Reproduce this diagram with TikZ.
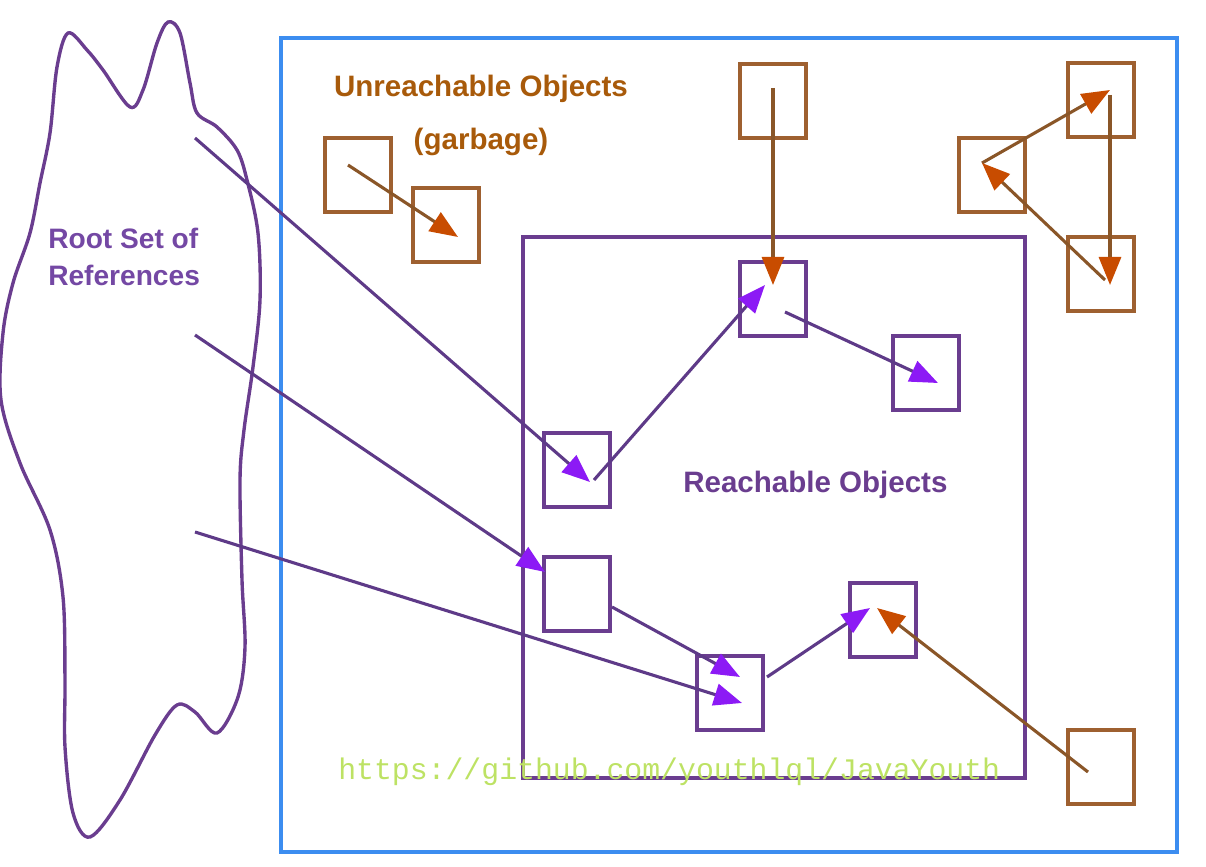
\documentclass[tikz,border=0pt]{standalone}
\usepackage{fontspec}
\setmainfont{Liberation Sans}
\setmonofont{Liberation Mono}
\usetikzlibrary{arrows.meta}

\definecolor{heapblue}{HTML}{3C8DF0}
\definecolor{boxbrown}{HTML}{9E6030}
\definecolor{linebrown}{HTML}{8A5628}
\definecolor{tiporange}{HTML}{C84C00}
\definecolor{boxpurple}{HTML}{6A3D8F}
\definecolor{linepurple}{HTML}{5E3A88}
\definecolor{tippurple}{HTML}{8C1AF5}
\definecolor{textbrown}{HTML}{A85A0A}
\definecolor{textpurple}{HTML}{7448A4}
\definecolor{markgreen}{HTML}{BDE264}

\begin{document}
\begin{tikzpicture}[x=0.025cm,y=-0.025cm,
  obj/.style={draw,line width=2.6pt,minimum width=1.65cm,minimum height=1.85cm,inner sep=0pt},
  garb/.style={obj,draw=boxbrown},
  live/.style={obj,draw=boxpurple},
  gref/.style={line width=2.2pt,draw=linebrown,-{Triangle[length=0.7cm,width=0.55cm,color=tiporange]}},
  lref/.style={line width=2.2pt,draw=linepurple,-{Triangle[length=0.7cm,width=0.55cm,color=tippurple]}},
  bigtext/.style={font=\bfseries\fontsize{21pt}{25pt}\selectfont,inner sep=0pt}]
\useasboundingbox (0,0) rectangle (1206,867);

% heap and the reachable area
\draw [heapblue,line width=3.2pt] (281,38) rectangle (1177,852);
\draw [boxpurple,line width=2.5pt] (523,237) rectangle (1025,778);

% root set
\draw [boxpurple,line width=2.4pt] plot [smooth cycle,tension=0.55] coordinates {
  (68,33) (87,50) (103,70) (130,107) (143,90) (157,43) (168,22) (180,33)
  (190,83) (197,113) (217,127) (237,150) (247,180) (258,233) (260,300)
  (253,367) (244,430) (240,480) (242,580) (245,647) (238,697) (217,733)
  (195,712) (177,705) (155,735) (120,800) (90,837) (73,813) (65,747)
  (65,680) (63,597) (50,530) (20,463) (1,400) (3,333) (13,283) (30,233)
  (40,183) (50,133) (57,67)};
\coordinate (r1) at (195,138);
\coordinate (r2) at (195,335);
\coordinate (r3) at (195,532);

% objects
\node [garb] (o1) at (358,175) {};
\node [garb] (o2) at (446,225) {};
\node [garb] (o3) at (773,101) {};
\node [garb] (o4) at (1101,100) {};
\node [garb] (o5) at (992,175) {};
\node [garb] (o6) at (1101,274) {};
\node [garb] (o7) at (1101,767) {};
\node [live] (p1) at (773,299) {};
\node [live] (p2) at (926,373) {};
\node [live] (p3) at (577,470) {};
\node [live] (p4) at (577,594) {};
\node [live] (p5) at (883,620) {};
\node [live] (p6) at (730,693) {};

% labels
\node [bigtext,textbrown,anchor=base] (unreach) at (481,97) {Unreachable Objects};
\node [bigtext,textbrown,anchor=base] (garbage) at (481,149) {(garbage)};
\node [bigtext,textpurple,font=\bfseries\fontsize{20pt}{24pt}\selectfont,anchor=base west] (root) at (48,248) {Root Set of};
\node [bigtext,textpurple,font=\bfseries\fontsize{20pt}{24pt}\selectfont,anchor=base west] (refs) at (48,285) {References};
\node [bigtext,boxpurple,anchor=base west] (reach) at (683,492) {Reachable Objects};

% references between garbage
\draw [gref] ([shift={(-10,-10)}]o1.center) -- ([shift={(12,12)}]o2.center);
\draw [gref] ([shift={(0,-13)}]o3.center) -- ([shift={(0,-14)}]p1.center);
\draw [gref] ([shift={(-10,-12)}]o5.center) -- ([shift={(9,-10)}]o4.center);
\draw [gref] ([shift={(9,-5)}]o4.center) -- ([shift={(9,11)}]o6.center);
\draw [gref] ([shift={(4,6)}]o6.center) -- ([shift={(-10,-12)}]o5.center);
\draw [gref] ([shift={(-13,5)}]o7.center) -- ([shift={(-6,-12)}]p5.center);

% live references
\draw [lref] (r1) -- ([shift={(13,12)}]p3.center);
\draw [lref] ([shift={(17,10)}]p3.center) -- ([shift={(-8,-14)}]p1.center);
\draw [lref] ([shift={(12,13)}]p1.center) -- ([shift={(12,10)}]p2.center);
\draw [lref] (r2) -- ([shift={(-32,-22)}]p4.center);
\draw [lref] ([shift={(35,13)}]p4.center) -- ([shift={(10,-16)}]p6.center);
\draw [lref] (r3) -- ([shift={(12,10)}]p6.center);
\draw [lref] ([shift={(37,-16)}]p6.center) -- ([shift={(-13,-12)}]p5.center);

\node [markgreen,font=\ttfamily\fontsize{21.2pt}{25pt}\selectfont,anchor=base west,inner sep=0pt] (mark) at (338,779) {https://github.com/youthlql/JavaYouth};
\end{tikzpicture}
\end{document}
